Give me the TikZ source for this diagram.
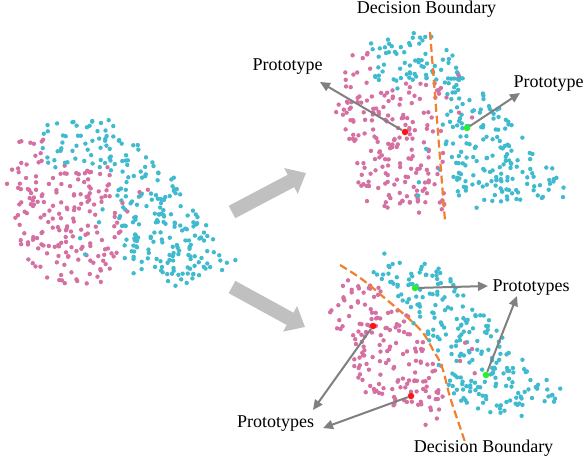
\documentclass[tikz,border=0pt]{standalone}
\usepackage{fontspec}
\setmainfont{Liberation Serif}
\usetikzlibrary{arrows.meta}
\definecolor{pinkc}{RGB}{212,112,162}
\definecolor{cyanc}{RGB}{64,186,206}
\definecolor{boundc}{RGB}{240,128,48}
\definecolor{protr}{RGB}{255,20,20}
\definecolor{protg}{RGB}{40,240,40}
\definecolor{arrg}{RGB}{128,128,128}
\definecolor{bigg}{RGB}{192,192,192}
\newcommand\dotrad{2.2pt}
\newcommand\dens{55}
\newcommand\jit{5}
% uniform dots in triangle: color, x1,y1,x2,y2,x3,y3
\newcommand\dottri[7]{%
  \pgfmathtruncatemacro\myN{round(abs((#4-#2)*(#7-#3)-(#6-#2)*(#5-#3))/2/\dens)}%
  \ifnum\myN>0
  \foreach \j in {1,...,\myN}{%
    \pgfmathsetmacro\myS{rnd}%
    \pgfmathsetmacro\myT{rnd}%
    \pgfmathsetmacro\myU{((\myS+\myT)>1) ? (1-\myS) : (\myS)}%
    \pgfmathsetmacro\myV{((\myS+\myT)>1) ? (1-\myT) : (\myT)}%
    \pgfmathsetmacro\myX{#2+\myU*(#4-#2)+\myV*(#6-#2)+\jit*rand}%
    \pgfmathsetmacro\myY{#3+\myU*(#5-#3)+\myV*(#7-#3)+\jit*rand}%
    \fill[#1] (\myX,\myY) circle[radius=\dotrad];
  }%
  \fi
}
% fan of triangles: color, cx, cy, closed vertex list x/y,...
\newcommand\dotfan[4]{%
  \foreach \vx/\vy [count=\k, remember=\vx as \ux (initially 0), remember=\vy as \uy (initially 0)] in {#4}{%
    \ifnum\k>1 \dottri{#1}{#2}{#3}{\ux}{\uy}{\vx}{\vy}\fi
  }%
}
\begin{document}
\begin{tikzpicture}[x=1pt,y=-1pt,
  lbl/.style={font=\fontsize{18}{20}\selectfont, inner sep=0pt, anchor=base},
  parrow/.style={draw=arrg, line width=2pt, -{Triangle[width=9pt,length=10pt]}},
  bigarrow/.style={draw=bigg, line width=14pt, -{Triangle[width=28pt,length=17pt]}},
  boundary/.style={draw=boundc, line width=2.2pt, dash pattern=on 8pt off 4pt},
  protodot/.style={circle, inner sep=0pt, minimum size=6.5pt},
]
\useasboundingbox (0,0) rectangle (584,456);
\pgfmathsetseed{11}
% ---------- panel 1 ----------
{\renewcommand\dens{64}%
\dotfan{pinkc}{40}{205}{22/136,42/138,45/168,112/168,120/255,112/288,45/282,25/258,5/180,22/136}}
\dotfan{cyanc}{80}{147}{45/128,54/120,120/126,112/168,45/164,45/128}
\dotfan{cyanc}{170}{230}{118/128,165/172,238/258,236/270,190/286,120/273,122/255,115/200,118/128}
{\renewcommand\dens{500}%
\dotfan{cyanc}{95}{235}{80/205,110/205,110/260,80/260,80/205}
\dotfan{pinkc}{135}{200}{118/165,150/180,150/240,118/230,118/165}}
% ---------- panel 2 ----------
{\renewcommand\dens{64}%
\dotfan{pinkc}{395}{150}{352/50,372/60,378/85,440/78,441/210,368/212,355/180,335/100,340/82,352/50}}
\dotfan{cyanc}{410}{62}{372/42,385/34,446/40,450/86,378/83,370/60,372/42}
\dotfan{cyanc}{490}{160}{448/42,463/77,483/93,505/118,520/133,533/155,558/172,562/195,550/195,517/208,468/205,447/203,446/110,448/42}
{\renewcommand\dens{500}%
\dotfan{cyanc}{428}{170}{415/140,440/140,440/200,415/200,415/140}
\dotfan{pinkc}{460}{90}{445/60,475/70,475/120,445/120,445/60}}
% ---------- panel 3 ----------
{\renewcommand\dens{60}%
\dotfan{pinkc}{385}{350}{345/282,357/272,372/278,392/300,420/330,438/365,448/400,446/410,438/426,425/422,390/406,357/388,342/333,330/320,332/305,345/282}}
\dotfan{cyanc}{420}{283}{368/264,382/254,397/262,445/265,463/293,470/305,405/310,395/300,375/285,368/264}
\dotfan{cyanc}{480}{365}{470/305,490/318,513/347,543/378,560/385,563/402,535/408,513/420,480/410,454/402,442/365,422/330,405/310,470/305}
{\renewcommand\dens{450}%
\dotfan{pinkc}{467}{350}{455/320,480/320,480/380,455/380,455/320}}
% ---------- big arrows ----------
\coordinate (ba1s) at (232,212);
\coordinate (ba1e) at (306,173);
\coordinate (ba2s) at (232,287);
\coordinate (ba2e) at (305,327);
\draw[bigarrow] (ba1s) -- (ba1e);
\draw[bigarrow] (ba2s) -- (ba2e);
% ---------- boundaries ----------
\draw[boundary] (430,32) -- (445,221);
\draw[boundary] plot[smooth, tension=0.7] coordinates {(340,265) (363,280) (387,300) (407,317) (423,333) (433,350) (442,367) (450,397) (460,427) (465,442)};
% ---------- labels ----------
\node[lbl] (db1) at (426.5,13) {Decision Boundary};
\node[lbl] (pt1) at (287.5,70) {Prototype};
\node[lbl] (pt2) at (548.5,87) {Prototype};
\node[lbl] (pt3) at (531,291) {Prototypes};
\node[lbl] (pt4) at (275.5,427) {Prototypes};
\node[lbl] (db2) at (483.5,452) {Decision Boundary};
% ---------- prototypes ----------
\node[protodot, fill=protr] (r1) at (405,132) {};
\node[protodot, fill=protg] (g1) at (467,128) {};
\node[protodot, fill=protr] (r2) at (373,326) {};
\node[protodot, fill=protr] (r3) at (411,396) {};
\node[protodot, fill=protg] (g2) at (415,288) {};
\node[protodot, fill=protg] (g3) at (486,375) {};
\coordinate (t1) at (320,82);
\coordinate (t2) at (520,93);
\coordinate (t3) at (313,410);
\coordinate (t4) at (323,428);
\coordinate (t5) at (488,286);
\coordinate (t6) at (517,296);
\draw[parrow] (r1) -- (t1);
\draw[parrow] (g1) -- (t2);
\draw[parrow] (r2) -- (t3);
\draw[parrow] (r3) -- (t4);
\draw[parrow] (g2) -- (t5);
\draw[parrow] (g3) -- (t6);
\end{tikzpicture}
\end{document}
